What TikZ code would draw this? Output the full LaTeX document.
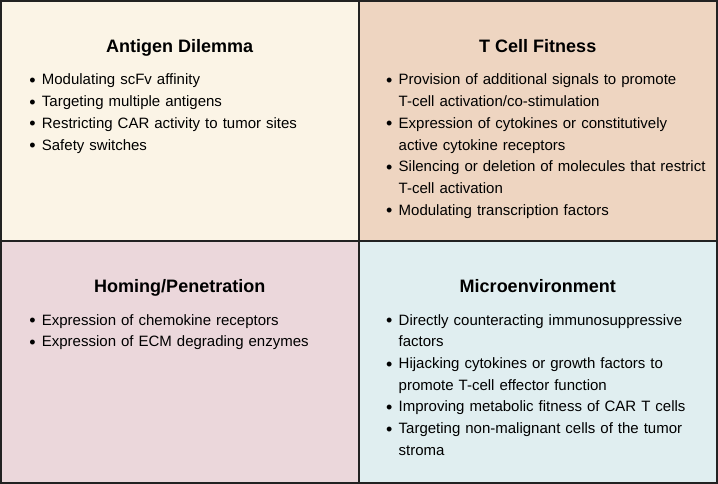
\documentclass[tikz,border=0pt]{standalone}
\usepackage{fontspec}
\setmainfont{Liberation Sans}
\definecolor{cream}{HTML}{FBF4E6}
\definecolor{peach}{HTML}{EED5C1}
\definecolor{rose}{HTML}{EBD7DB}
\definecolor{mist}{HTML}{E0EEF0}
\definecolor{edge}{HTML}{222222}
\newcommand{\itm}{\par\noindent\strut\llap{\raisebox{-1.6pt}{\fontsize{18}{0}\selectfont\textbullet}\hspace{6.3pt}}}
\begin{document}
\begin{tikzpicture}[x=1pt, y=-1pt, every node/.style={font=\fontsize{15}{21.7}\selectfont},
  panel/.style={draw=edge,line width=2pt,inner sep=0pt},
  head/.style={anchor=base,font=\bfseries\fontsize{18}{20}\selectfont},
  items/.style={anchor=north west,align=left,text width=316pt,inner sep=0pt}]
\useasboundingbox (0,0) rectangle (718,484);
\node[panel,fill=cream,minimum width=357.5pt,minimum height=240pt] (antigen) at (179.75,121) {};
\node[panel,fill=peach,minimum width=358.5pt,minimum height=240pt] (fitness) at (537.75,121) {};
\node[panel,fill=rose,minimum width=357.5pt,minimum height=242pt] (homing) at (179.75,362) {};
\node[panel,fill=mist,minimum width=358.5pt,minimum height=242pt] (micro) at (537.75,362) {};
\node[head] (antigenhead) at (179.75,52.3) {Antigen Dilemma};
\node[head] (fitnesshead) at (537.75,52.3) {T Cell Fitness};
\node[head] (hominghead) at (179.75,292.3) {Homing/Penetration};
\node[head] (microhead) at (537.75,292.3) {Microenvironment};
\node[items] (antigenlist) at (41.7,63.1) {\itm Modulating scFv affinity
  \itm Targeting multiple antigens
  \itm Restricting CAR activity to tumor sites
  \itm Safety switches};
\node[items] (fitnesslist) at (398.5,63.1) {\itm Provision of additional signals to promote\newline T-cell activation/co-stimulation
  \itm Expression of cytokines or constitutively\newline active cytokine receptors
  \itm Silencing or deletion of molecules that restrict\newline T-cell activation
  \itm Modulating transcription factors};
\node[items] (hominglist) at (41.7,303.1) {\itm Expression of chemokine receptors
  \itm Expression of ECM degrading enzymes};
\node[items] (microlist) at (398.5,303.1) {\itm Directly counteracting immunosuppressive\newline factors
  \itm Hijacking cytokines or growth factors to\newline promote T-cell effector function
  \itm Improving metabolic fitness of CAR T cells
  \itm Targeting non-malignant cells of the tumor\newline stroma};
\end{tikzpicture}
\end{document}
